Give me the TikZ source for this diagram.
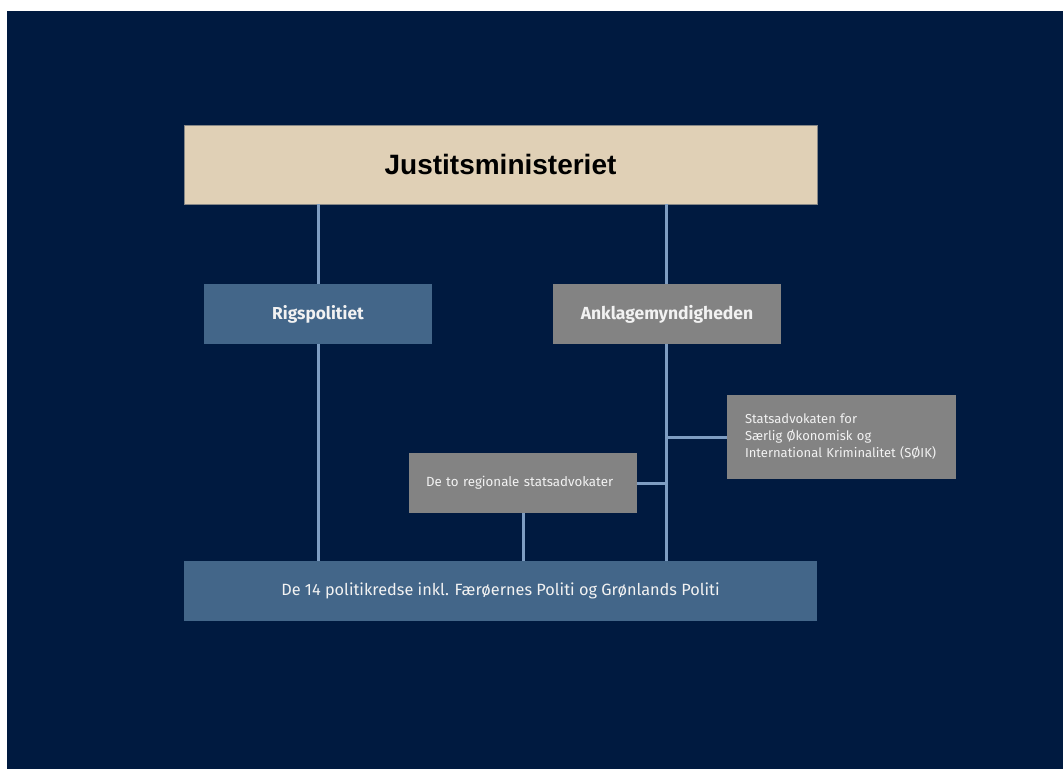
\documentclass[tikz,border=0pt]{standalone}
\usepackage{fontspec}
\setmainfont{Fira Sans}
\newfontfamily\titlefont{Liberation Sans}
\definecolor{bgnavy}{HTML}{001A40}
\definecolor{beige}{HTML}{E0D0B6}
\definecolor{boxblue}{HTML}{436689}
\definecolor{boxgray}{HTML}{838383}
\definecolor{linkblue}{HTML}{7E9DC2}
\definecolor{txtlight}{HTML}{F2F2F2}
\begin{document}
\begin{tikzpicture}[x=1pt,y=-1pt,
  box/.style={rectangle, inner sep=0pt, anchor=center},
  bluebox/.style={box, fill=boxblue, text=txtlight},
  graybox/.style={box, fill=boxgray, text=txtlight},
  link/.style={draw=linkblue, line width=3pt}]
\fill[white] (0,0) rectangle (1063,769);
\fill[bgnavy] (7,11) rectangle (1063,769);
\useasboundingbox (0,0) rectangle (1063,769);
% nodes
\node[box, fill=beige, draw=beige!60!bgnavy, line width=0.6pt, minimum width=633pt, minimum height=79pt, font=\titlefont\bfseries\fontsize{28}{32}\selectfont] (just) at (500.5,164.5) {Justitsministeriet};
\node[bluebox, minimum width=228pt, minimum height=60pt, font=\bfseries\fontsize{17.3}{20}\selectfont] (rigs) at (318,314) {Rigspolitiet};
\node[graybox, minimum width=228pt, minimum height=60pt, font=\bfseries\fontsize{17.5}{20}\selectfont] (ankl) at (667,314) {Anklagemyndigheden};
\node[graybox, minimum width=229pt, minimum height=84pt, text width=193pt, align=left, font=\fontsize{13}{17}\selectfont] (soik) at (841.5,437) {Statsadvokaten for\\Særlig Økonomisk og\\International Kriminalitet (SØIK)};
\node[graybox, minimum width=228pt, minimum height=60pt, text width=194pt, align=left, font=\fontsize{13.3}{17}\selectfont] (reg) at (523,483) {De to regionale statsadvokater};
\node[bluebox, minimum width=633pt, minimum height=60pt, font=\fontsize{16.3}{19}\selectfont] (bot) at (500.5,591) {De 14 politikredse inkl. Færøernes Politi og Grønlands Politi};
% connectors
\coordinate (jr) at (rigs.north |- just.south);
\coordinate (ja) at ([xshift=-1pt]ankl.north |- just.south);
\draw[link] (jr) -- (rigs.north);
\draw[link] (ja) -- (ja |- ankl.north);
\draw[link] (rigs.south) -- (rigs.south |- bot.north);
\draw[link] (ja |- ankl.south) -- (ja |- bot.north);
\draw[link] (soik.west) -- (soik.west -| ja);
\draw[link] (reg.east) -- (reg.east -| ja);
\draw[link] (reg.south) -- (reg.south |- bot.north);
\end{tikzpicture}
\end{document}
